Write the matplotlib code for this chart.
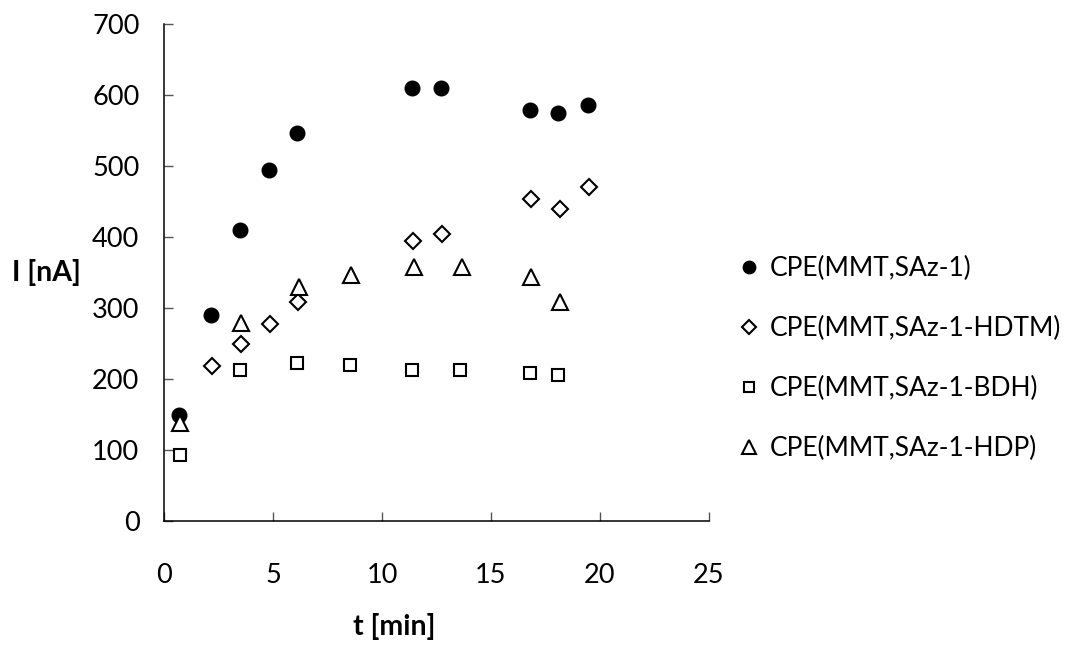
import matplotlib
matplotlib.use("Agg")
import matplotlib.pyplot as plt

plt.rcParams['font.family'] = ['Lato', 'DejaVu Sans']

# Data
t_mmt = [0.69, 2.14, 3.47, 4.79, 6.10, 11.38, 12.71, 16.79, 18.10, 19.44]
i_mmt = [150, 290, 410, 494, 547, 610, 610, 579, 575, 586]

t_hdtm = [2.20, 3.52, 4.83, 6.15, 11.43, 12.76, 16.83, 18.16, 19.48]
i_hdtm = [218, 249, 277, 309, 395, 404, 453, 439, 471]

t_bdh = [0.72, 3.46, 6.10, 8.54, 11.38, 13.60, 16.79, 18.10]
i_bdh = [93, 213, 222, 220, 213, 213, 209, 205]

t_hdp = [0.72, 3.52, 6.17, 8.58, 11.45, 13.65, 16.85, 18.16]
i_hdp = [138, 279, 330, 347, 358, 358, 344, 309]

labels = ["CPE(MMT,SAz-1)", "CPE(MMT,SAz-1-HDTM)", "CPE(MMT,SAz-1-BDH)", "CPE(MMT,SAz-1-HDP)"]
x_ticks = [0, 5, 10, 15, 20, 25]
y_ticks = [0, 100, 200, 300, 400, 500, 600, 700]

fig = plt.figure(figsize=(10.7, 6.46), dpi=100)
ax = fig.add_axes([164.4/1070, 1-521/646, (708.7-164.4)/1070, (521-24)/646])

ax.plot(t_mmt, i_mmt, linestyle='none', marker='o', markersize=10.5, color='black', label=labels[0])
ax.plot(t_hdtm, i_hdtm, linestyle='none', marker='D', markersize=8.5, markerfacecolor='white',
        markeredgecolor='black', markeredgewidth=1.5, label=labels[1])
ax.plot(t_bdh, i_bdh, linestyle='none', marker='s', markersize=9, markerfacecolor='white',
        markeredgecolor='black', markeredgewidth=1.5, label=labels[2])
ax.plot(t_hdp, i_hdp, linestyle='none', marker='^', markersize=11.5, markerfacecolor='white',
        markeredgecolor='black', markeredgewidth=1.5, label=labels[3])

ax.set_xlim(0, 25)
ax.set_ylim(0, 700)
ax.set_xticks(x_ticks)
ax.set_yticks(y_ticks)
for s in ['top', 'right']:
    ax.spines[s].set_visible(False)
for s in ['left', 'bottom']:
    ax.spines[s].set_linewidth(1.1)
ax.tick_params(axis='both', direction='in', length=6.5, width=1, colors='#555555', labelcolor='black', labelsize=19.5)
ax.tick_params(axis='x', pad=30)
ax.tick_params(axis='y', pad=18)

fig.text(394/1070, 1-627/646, "t [min]", ha='center', va='center', fontsize=20.5, fontweight='bold')
fig.text(46/1070, 1-273/646, "I [nA]", ha='center', va='center', fontsize=20.5, fontweight='bold')

leg = ax.legend(loc='upper left', bbox_to_anchor=(738/1070, 1-256/646), bbox_transform=fig.transFigure,
                frameon=False, fontsize=19, markerscale=0.85, handlelength=0.8, handletextpad=0.4,
                labelspacing=1.32, borderpad=0, borderaxespad=0)

fig.savefig("out.png", dpi=100)
